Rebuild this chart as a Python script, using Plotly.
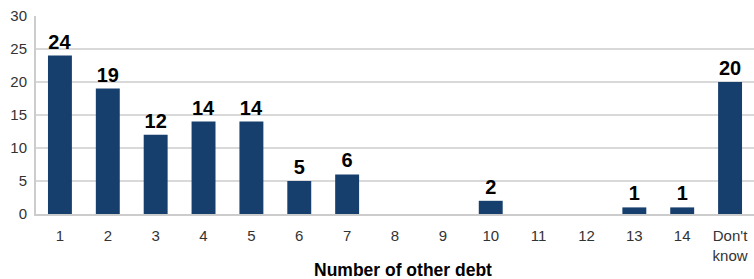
import plotly.graph_objects as go

categories = ["1", "2", "3", "4", "5", "6", "7", "8", "9", "10", "11", "12", "13", "14", "Don't<br>know"]
values = [24, 19, 12, 14, 14, 5, 6, 0, 0, 2, 0, 0, 1, 1, 20]
y_ticks = [0, 5, 10, 15, 20, 25, 30]

labels = [str(v) if v > 0 else "" for v in values]

fig = go.Figure(go.Bar(
    x=categories, y=values, text=labels, textposition="outside",
    textfont=dict(family="Liberation Sans", size=20, color="#000000", weight="bold"),
    marker=dict(color="#173f6d", line=dict(width=0)),
    width=0.5, cliponaxis=False,
))

fig.update_layout(
    width=754, height=279,
    margin=dict(l=36, r=0, t=16, b=65, autoexpand=False),
    plot_bgcolor="white", paper_bgcolor="white",
    showlegend=False,
    font=dict(family="Liberation Sans", size=15, color="#333333"),
    annotations=[dict(
        text="<b>Number of other debt</b>", x=0.5, xref="paper", y=0, yref="paper",
        yshift=-56, xshift=8, xanchor="center", yanchor="middle", showarrow=False,
        font=dict(size=17.5, color="#000000"),
    )],
)
fig.update_xaxes(
    type="category", range=[-0.5, 14.5], automargin=False,
    showgrid=False, showline=True, linecolor="#cccccc", linewidth=2,
    ticks="", tickfont=dict(size=15, color="#333333"), ticklabelstandoff=7,
)
fig.update_yaxes(
    range=[0, 30], tickvals=y_ticks, showgrid=True, gridcolor="#d9d9d9", gridwidth=2,
    showline=True, linecolor="#cccccc", linewidth=2, zeroline=False, automargin=False,
    ticks="", tickfont=dict(size=15, color="#333333"), ticklabelstandoff=4,
)

fig.write_html(
    "out.html",
    config={"displayModeBar": False},
    post_script="document.body.style.margin='0';document.body.style.overflow='hidden';",
)
